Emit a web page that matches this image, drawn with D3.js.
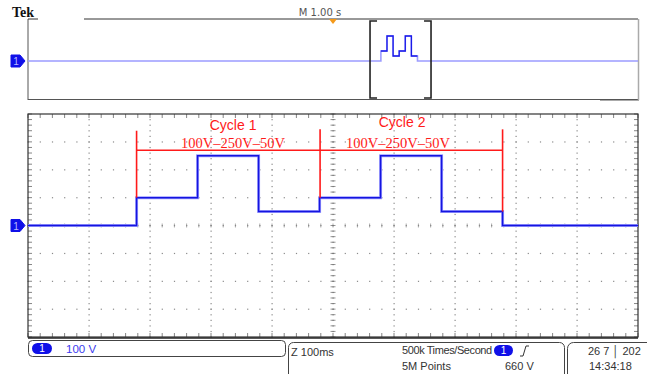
<!DOCTYPE html>
<html><head><meta charset="utf-8">
<script src="https://cdn.jsdelivr.net/npm/d3@7"></script>
<style>body{margin:0;background:#fff;}svg{display:block;}</style>
</head><body>
<script>
// ---- data ----
const stepTimesMs = [0, 178, 278, 378, 478, 578, 678, 778, 1000]; // zoomed window, ms
const stepVolts   = [0, 100, 250, 50, 100, 250, 50, 0];             // V during each interval
const cycleLabels = ["Cycle 1", "Cycle 2"];
const cycleSeq    = "100V\u2013250V\u201350V";
const cycleStartMs = [178, 478];
const cycleEndMs   = [478, 778];
const zoomStartS = 0.607;   // zoom window start in overview (s from trigger)
const statusTexts = {scale:"100 V", zoom:"Z 100ms", rate:"500k Times/Second", pts:"5M Points", trig:"660 V", date:"26 7  \u2502 202", time:"14:34:18", main:"M 1.00 s"};

const W = 647, H = 374;
const svg = d3.select("body").append("svg").attr("width", W).attr("height", H);

// ---- main graticule scales ----
const x = d3.scaleLinear().domain([0, 1000]).range([28, 638]);
const y = d3.scaleLinear().domain([-400, 400]).range([337, 114]);
const divX = d3.range(0, 1001, 100), divY = d3.range(-400, 401, 100);
const minX = d3.range(0, 1001, 20), minY = d3.range(-400, 401, 20);

const g = svg.append("g");
// dotted grid
divX.slice(1, -1).forEach(t => {
  minY.forEach(v => g.append("rect").attr("x", x(t) - 0.5).attr("y", y(v) - 0.5).attr("width", 1.2).attr("height", 1.2).attr("fill", "#8a8a8a"));
});
divY.slice(1, -1).forEach(v => {
  minX.forEach(t => g.append("rect").attr("x", x(t) - 0.5).attr("y", y(v) - 0.5).attr("width", 1.2).attr("height", 1.2).attr("fill", "#8a8a8a"));
});
// center crosshair ticks
minY.forEach(v => g.append("line").attr("x1", x(500) - 2.5).attr("x2", x(500) + 2.5).attr("y1", y(v)).attr("y2", y(v)).attr("stroke", "#666").attr("stroke-width", 0.7));
minX.forEach(t => g.append("line").attr("x1", x(t)).attr("x2", x(t)).attr("y1", y(0) - 2).attr("y2", y(0) + 2).attr("stroke", "#888").attr("stroke-width", 0.7));
// border ticks
minY.forEach(v => {
  g.append("line").attr("x1", x(0)).attr("x2", x(0) + 4).attr("y1", y(v)).attr("y2", y(v)).attr("stroke", "#666").attr("stroke-width", 0.8);
  g.append("line").attr("x1", x(1000) - 4).attr("x2", x(1000)).attr("y1", y(v)).attr("y2", y(v)).attr("stroke", "#666").attr("stroke-width", 0.8);
});
minX.forEach(t => {
  g.append("line").attr("x1", x(t)).attr("x2", x(t)).attr("y1", y(400)).attr("y2", y(400) + 4).attr("stroke", "#666").attr("stroke-width", 0.8);
  g.append("line").attr("x1", x(t)).attr("x2", x(t)).attr("y1", y(-400) - 4).attr("y2", y(-400)).attr("stroke", "#666").attr("stroke-width", 0.8);
});
g.append("rect").attr("x", x(0)).attr("y", y(400)).attr("width", x(1000) - x(0)).attr("height", y(-400) - y(400))
  .attr("fill", "none").attr("stroke", "#333").attr("stroke-width", 1.2);
g.append("line").attr("x1", x(0)).attr("x2", x(1000)).attr("y1", y(-400) + 1).attr("y2", y(-400) + 1).attr("stroke", "#222").attr("stroke-width", 1.5);

// ---- main waveform ----
const pts = [];
stepVolts.forEach((v, i) => { pts.push([stepTimesMs[i], v]); pts.push([stepTimesMs[i + 1], v]); });
const line = d3.line().x(d => x(d[0])).y(d => y(d[1]));
svg.append("path").attr("d", line(pts)).attr("fill", "none").attr("stroke", "#a0a0ff").attr("stroke-width", 3);
svg.append("path").attr("d", line(pts)).attr("fill", "none").attr("stroke", "#1515e0").attr("stroke-width", 1.5);

// ---- red annotations ----
const red = "#ff1a1a";
const annY = y(270);
svg.append("line").attr("x1", x(cycleStartMs[0])).attr("x2", x(cycleEndMs[1])).attr("y1", annY).attr("y2", annY).attr("stroke", red).attr("stroke-width", 1.6);
svg.append("line").attr("x1", x(cycleStartMs[0])).attr("x2", x(cycleStartMs[0])).attr("y1", y(340)).attr("y2", y(100)).attr("stroke", red).attr("stroke-width", 1.6);
svg.append("line").attr("x1", x(cycleEndMs[0]) + 0.5).attr("x2", x(cycleEndMs[0]) + 0.5).attr("y1", y(345)).attr("y2", y(100)).attr("stroke", red).attr("stroke-width", 1.6);
svg.append("line").attr("x1", x(cycleEndMs[1])).attr("x2", x(cycleEndMs[1])).attr("y1", y(345)).attr("y2", y(50)).attr("stroke", red).attr("stroke-width", 1.6);
cycleLabels.forEach((lab, i) => {
  const cx = (x(cycleStartMs[i]) + x(cycleEndMs[i])) / 2;
  svg.append("text").attr("x", cx + (i ? -9 : 5)).attr("y", i ? 127 : 130).attr("text-anchor", "middle")
    .attr("font-family", "Liberation Sans, Arial, sans-serif").attr("font-size", 14).attr("fill", red).text(lab);
  svg.append("text").attr("x", cx + (i ? -13 : 5)).attr("y", 148).attr("text-anchor", "middle")
    .attr("font-family", "Liberation Serif, Times New Roman, serif").attr("font-size", 14.5).attr("fill", red).text(cycleSeq);
});

// ---- channel markers ----
function marker(cy) {
  svg.append("path").attr("d", `M11,${cy - 6} L20,${cy - 6} L25,${cy} L20,${cy + 6} L11,${cy + 6} Z`).attr("fill", "#1010e8").attr("stroke", "#1010e8");
  svg.append("text").attr("x", 16).attr("y", cy + 4).attr("text-anchor", "middle").attr("font-family", "Liberation Sans, sans-serif")
    .attr("font-size", 10).attr("fill", "#b8b8ff").text("1");
}
marker(y(0));

// ---- overview ----
const ox = d3.scaleLinear().domain([-5, 5]).range([28, 638]);
const oy = d3.scaleLinear().domain([-400, 400]).range([101, 21]);
svg.append("line").attr("x1", 28).attr("x2", 28).attr("y1", 19).attr("y2", 100).attr("stroke", "#555").attr("stroke-width", 1);
svg.append("line").attr("x1", 28).attr("x2", 38).attr("y1", 19).attr("y2", 19).attr("stroke", "#333").attr("stroke-width", 1);
svg.append("line").attr("x1", 84).attr("x2", 638).attr("y1", 19).attr("y2", 19).attr("stroke", "#333").attr("stroke-width", 1);
svg.append("line").attr("x1", 28).attr("x2", 638).attr("y1", 99.5).attr("y2", 99.5).attr("stroke", "#555").attr("stroke-width", 1);
svg.append("line").attr("x1", 600).attr("x2", 639).attr("y1", 100.5).attr("y2", 100.5).attr("stroke", "#aaa").attr("stroke-width", 1);
svg.append("line").attr("x1", 638.5).attr("x2", 638.5).attr("y1", 19).attr("y2", 100).attr("stroke", "#aaa").attr("stroke-width", 1.5);
// overview trace
const opts = [[-5, 0]];
stepVolts.forEach((v, i) => { opts.push([zoomStartS + stepTimesMs[i] / 1000, v]); opts.push([zoomStartS + stepTimesMs[i + 1] / 1000, v]); });
opts.push([5, 0]);
const oline = d3.line().x(d => ox(d[0])).y(d => oy(d[1]));
svg.append("path").attr("d", oline(opts)).attr("fill", "none").attr("stroke", "#9c9cff").attr("stroke-width", 1.6);
const zpts = [];
stepVolts.forEach((v, i) => { if (i > 0 && i < stepVolts.length - 1) { zpts.push([zoomStartS + stepTimesMs[i] / 1000, v]); zpts.push([zoomStartS + stepTimesMs[i + 1] / 1000, v]); } });
svg.append("path").attr("d", oline(zpts)).attr("fill", "none").attr("stroke", "#1a1ae8").attr("stroke-width", 1.3);
// brackets
const bl = ox(zoomStartS), br = ox(zoomStartS + 1);
svg.append("path").attr("d", `M${bl + 7},21 H${bl} V98 H${bl + 7}`).attr("fill", "none").attr("stroke", "#222").attr("stroke-width", 1.6);
svg.append("path").attr("d", `M${br - 7},21 H${br} V98 H${br - 7}`).attr("fill", "none").attr("stroke", "#222").attr("stroke-width", 1.6);
marker(oy(0));
// trigger marker
svg.append("path").attr("d", `M${ox(0) - 4},19 L${ox(0) + 4},19 L${ox(0)},24 Z`).attr("fill", "#f59a1a");
svg.append("text").attr("x", 320).attr("y", 16).attr("text-anchor", "middle").attr("font-family", "DejaVu Sans, sans-serif")
  .attr("font-size", 10).attr("fill", "#555").text(statusTexts.main);
svg.append("text").attr("x", 12).attr("y", 17).attr("font-family", "Liberation Serif, serif").attr("font-weight", "bold")
  .attr("font-size", 14).attr("fill", "#111").text("Tek");

// ---- status bar ----
const sb = svg.append("g").attr("font-family", "Liberation Sans, Arial, sans-serif").attr("font-size", 11);
sb.append("rect").attr("x", 28.5).attr("y", 340.5).attr("width", 257).attr("height", 16).attr("rx", 4).attr("fill", "#fff").attr("stroke", "#444");
sb.append("rect").attr("x", 32).attr("y", 343).attr("width", 20).attr("height", 11).attr("rx", 5.5).attr("fill", "#1010e8");
sb.append("text").attr("x", 42).attr("y", 352).attr("text-anchor", "middle").attr("fill", "#fff").attr("font-size", 10).text("1");
sb.append("text").attr("x", 66).attr("y", 353).attr("fill", "#3a3aee").attr("font-size", 11.5).text(statusTexts.scale);
sb.append("rect").attr("x", 288.5).attr("y", 342.5).attr("width", 276).attr("height", 40).attr("rx", 5).attr("fill", "#fff").attr("stroke", "#444");
sb.append("text").attr("x", 291).attr("y", 356).attr("fill", "#333").text(statusTexts.zoom);
sb.append("text").attr("x", 402).attr("y", 354).attr("fill", "#333").attr("letter-spacing", -0.4).text(statusTexts.rate);
sb.append("text").attr("x", 402).attr("y", 370).attr("fill", "#333").text(statusTexts.pts);
sb.append("rect").attr("x", 494).attr("y", 345).attr("width", 19).attr("height", 11).attr("rx", 5.5).attr("fill", "#1010e8");
sb.append("text").attr("x", 503.5).attr("y", 354).attr("text-anchor", "middle").attr("fill", "#fff").attr("font-size", 10).text("1");
sb.append("path").attr("d", "M520,356 L523,356 L526,346 L529,346").attr("fill", "none").attr("stroke", "#333").attr("stroke-width", 1);
sb.append("text").attr("x", 505).attr("y", 370).attr("fill", "#333").text(statusTexts.trig);
sb.append("rect").attr("x", 567.5).attr("y", 342.5).attr("width", 100).attr("height", 40).attr("rx", 6).attr("fill", "#fff").attr("stroke", "#444");
sb.append("text").attr("x", 588).attr("y", 355).attr("fill", "#333").text(statusTexts.date);
sb.append("text").attr("x", 589).attr("y", 370).attr("fill", "#333").text(statusTexts.time);
</script>
</body></html>
